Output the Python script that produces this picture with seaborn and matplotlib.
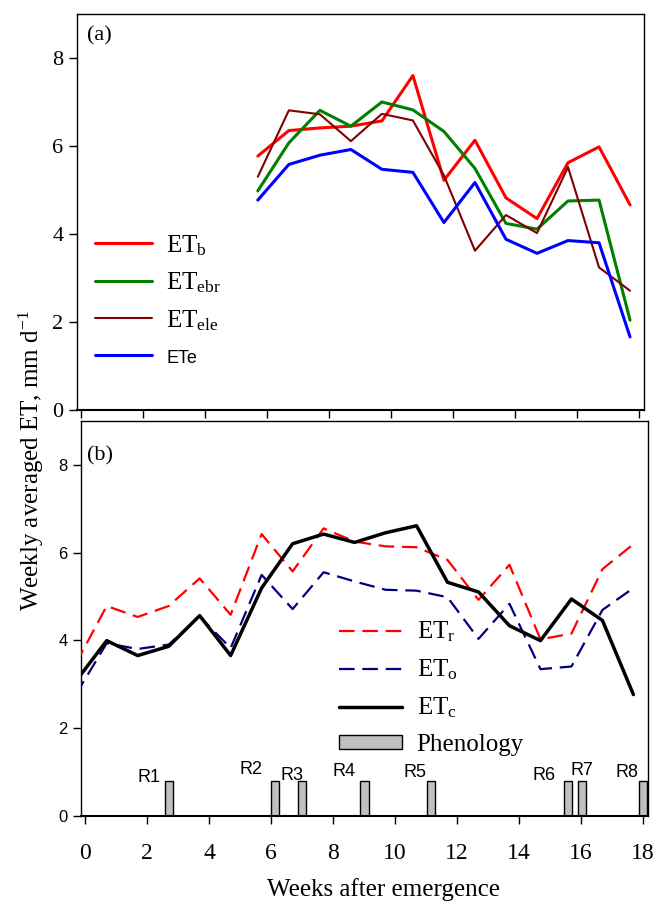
import matplotlib
matplotlib.use('Agg')
import matplotlib.pyplot as plt
import seaborn as sns
import pandas as pd
from matplotlib.lines import Line2D
from matplotlib.patches import Patch

# ---------------- data ----------------
weeks_a = [5.7, 6.7, 7.7, 8.7, 9.7, 10.7, 11.7, 12.7, 13.7, 14.7, 15.7, 16.7, 17.7]
et_b = [5.77, 6.35, 6.41, 6.45, 6.57, 7.60, 5.22, 6.13, 4.82, 4.35, 5.62, 5.98, 4.66]
et_ebr = [4.98, 6.07, 6.81, 6.45, 7.00, 6.82, 6.33, 5.49, 4.24, 4.11, 4.75, 4.77, 2.04]
et_ele = [5.30, 6.81, 6.72, 6.11, 6.73, 6.58, 5.33, 3.62, 4.43, 4.02, 5.52, 3.24, 2.71]
et_e = [4.77, 5.58, 5.79, 5.92, 5.47, 5.40, 4.26, 5.17, 3.88, 3.56, 3.85, 3.80, 1.66]

weeks_b = [-0.3, 0.7, 1.7, 2.7, 3.7, 4.7, 5.7, 6.7, 7.7, 8.7, 9.7, 10.7, 11.7,
           12.7, 13.7, 14.7, 15.7, 16.7, 17.7]
et_c = [3.06, 3.99, 3.65, 3.86, 4.56, 3.65, 5.19, 6.20, 6.42, 6.23, 6.45, 6.61,
        5.32, 5.10, 4.33, 3.99, 4.94, 4.45, 2.76]
et_r = [3.46, 4.78, 4.53, 4.78, 5.41, 4.58, 6.42, 5.57, 6.55, 6.25, 6.14, 6.12,
        5.83, 4.92, 5.72, 4.02, 4.15, 5.62, 6.19]
et_o = [2.76, 3.93, 3.80, 3.90, 4.54, 3.82, 5.49, 4.71, 5.55, 5.34, 5.15, 5.13,
        4.98, 4.03, 4.83, 3.34, 3.40, 4.69, 5.19]

stages = ['R1', 'R2', 'R3', 'R4', 'R5', 'R6', 'R7', 'R8']
stage_week = [2.72, 6.14, 7.00, 9.02, 11.16, 15.59, 16.03, 18.00]
stage_height = [0.8] * 8

# label placement (layout only)
stage_lx = [2.05, 5.36, 6.69, 8.36, 10.64, 14.82, 16.04, 17.50]
stage_ly = [0.88, 1.05, 0.91, 1.01, 0.99, 0.92, 1.03, 0.99]

xticks = [0, 2, 4, 6, 8, 10, 12, 14, 16, 18]
yticks = [0, 2, 4, 6, 8]

# ---------------- style ----------------
sns.set_style('ticks')
plt.rcParams['font.family'] = ['Liberation Serif', 'DejaVu Serif']
plt.rcParams['mathtext.fontset'] = 'custom'
plt.rcParams['mathtext.rm'] = 'Liberation Serif'
plt.rcParams['mathtext.it'] = 'Liberation Serif:italic'
plt.rcParams['mathtext.bf'] = 'Liberation Serif:bold'
for k in ['text.color', 'axes.labelcolor', 'xtick.color', 'ytick.color', 'axes.edgecolor']:
    plt.rcParams[k] = 'black'

fig = plt.figure(figsize=(6.57, 9.02), dpi=100)
axa = fig.add_axes([0.1167, 0.5455, 0.864, 0.439])
axb = fig.add_axes([0.1228, 0.0958, 0.863, 0.4375])

df_a = pd.DataFrame({'week': weeks_a, 'ETb': et_b, 'ETebr': et_ebr,
                     'ETele': et_ele, 'ETe': et_e})
df_b = pd.DataFrame({'week': weeks_b, 'ETc': et_c, 'ETr': et_r, 'ETo': et_o})

# ---- panel (a)
specs_a = [('ETb', '#FF0000', 2.2, r'ET$_{\mathrm{b}}$'),
           ('ETebr', '#008000', 2.2, r'ET$_{\mathrm{ebr}}$'),
           ('ETele', '#800000', 1.5, r'ET$_{\mathrm{ele}}$'),
           ('ETe', '#0000FF', 2.2, 'ETe')]
handles_a = []
for col, c, lw, lab in specs_a:
    sns.lineplot(data=df_a, x='week', y=col, ax=axa, color=c, lw=lw)
    handles_a.append(Line2D([], [], color=c, lw=lw))

# ---- panel (b)
axb.bar(stage_week, stage_height, width=0.26, color='#C0C0C0',
        edgecolor='black', linewidth=1.0, zorder=2)
dash = (0, (7, 3.5))
sns.lineplot(data=df_b, x='week', y='ETr', ax=axb, color='#FF0000', lw=1.6,
             linestyle=dash, zorder=3)
sns.lineplot(data=df_b, x='week', y='ETo', ax=axb, color='#000080', lw=1.6,
             linestyle=dash, zorder=3)
sns.lineplot(data=df_b, x='week', y='ETc', ax=axb, color='black', lw=2.5, zorder=4)
for s, lx, ly in zip(stages, stage_lx, stage_ly):
    axb.text(lx, ly, s, ha='center', va='center', fontsize=13,
             family='Liberation Sans')

handles_b = [Line2D([], [], color='#FF0000', lw=1.6, linestyle=dash),
             Line2D([], [], color='#000080', lw=1.6, linestyle=dash),
             Line2D([], [], color='black', lw=2.5),
             Patch(facecolor='#C0C0C0', edgecolor='black', linewidth=1.0)]
labels_b = [r'ET$_{\mathrm{r}}$', r'ET$_{\mathrm{o}}$', r'ET$_{\mathrm{c}}$', 'Phenology']

for ax in (axa, axb):
    ax.set_xlim(-0.14, 18.16)
    ax.set_ylim(0, 9)
    ax.set_xticks(xticks)
    ax.set_yticks(yticks)
    ax.set_xlabel('')
    ax.set_ylabel('')
    ax.tick_params(direction='out', length=6, width=1.0, top=False, right=False)
    for sp in ax.spines.values():
        sp.set_linewidth(1.0)
        sp.set_color('black')
    ax.spines['bottom'].set_linewidth(1.5)

axa.tick_params(labelbottom=False, labelsize=16)
axb.tick_params(axis='x', labelsize=17, pad=14)
axb.tick_params(axis='y', labelsize=12)
for t in axb.get_yticklabels():
    t.set_fontfamily('Liberation Sans')

axa.text(0.018, 0.968, '(a)', transform=axa.transAxes, ha='left', va='top', fontsize=16)
axb.text(0.011, 0.935, '(b)', transform=axb.transAxes, ha='left', va='top', fontsize=16)

leg_a = axa.legend(handles_a, [s[3] for s in specs_a], loc='upper left',
                   bbox_to_anchor=(0.032, 0.447), frameon=False, fontsize=18,
                   borderpad=0, borderaxespad=0, handlelength=2.3,
                   handletextpad=0.55, labelspacing=0.52)
leg_a.get_texts()[3].set_fontfamily('Liberation Sans')
leg_a.get_texts()[3].set_fontsize(13)

leg_b = axb.legend(handles_b, labels_b, loc='upper left',
                   bbox_to_anchor=(0.4556, 0.497), frameon=False, fontsize=18,
                   borderpad=0, borderaxespad=0, handlelength=2.5,
                   handleheight=0.45, handletextpad=0.6, labelspacing=0.54)

fig.text(0.047, 0.489, r'Weekly averaged ET, mm d$^{-1}$', rotation=90,
         ha='center', va='center', fontsize=18)
fig.text(0.583, 0.007, 'Weeks after emergence', ha='center', va='baseline',
         fontsize=18)

fig.savefig('out.png', dpi=100)
